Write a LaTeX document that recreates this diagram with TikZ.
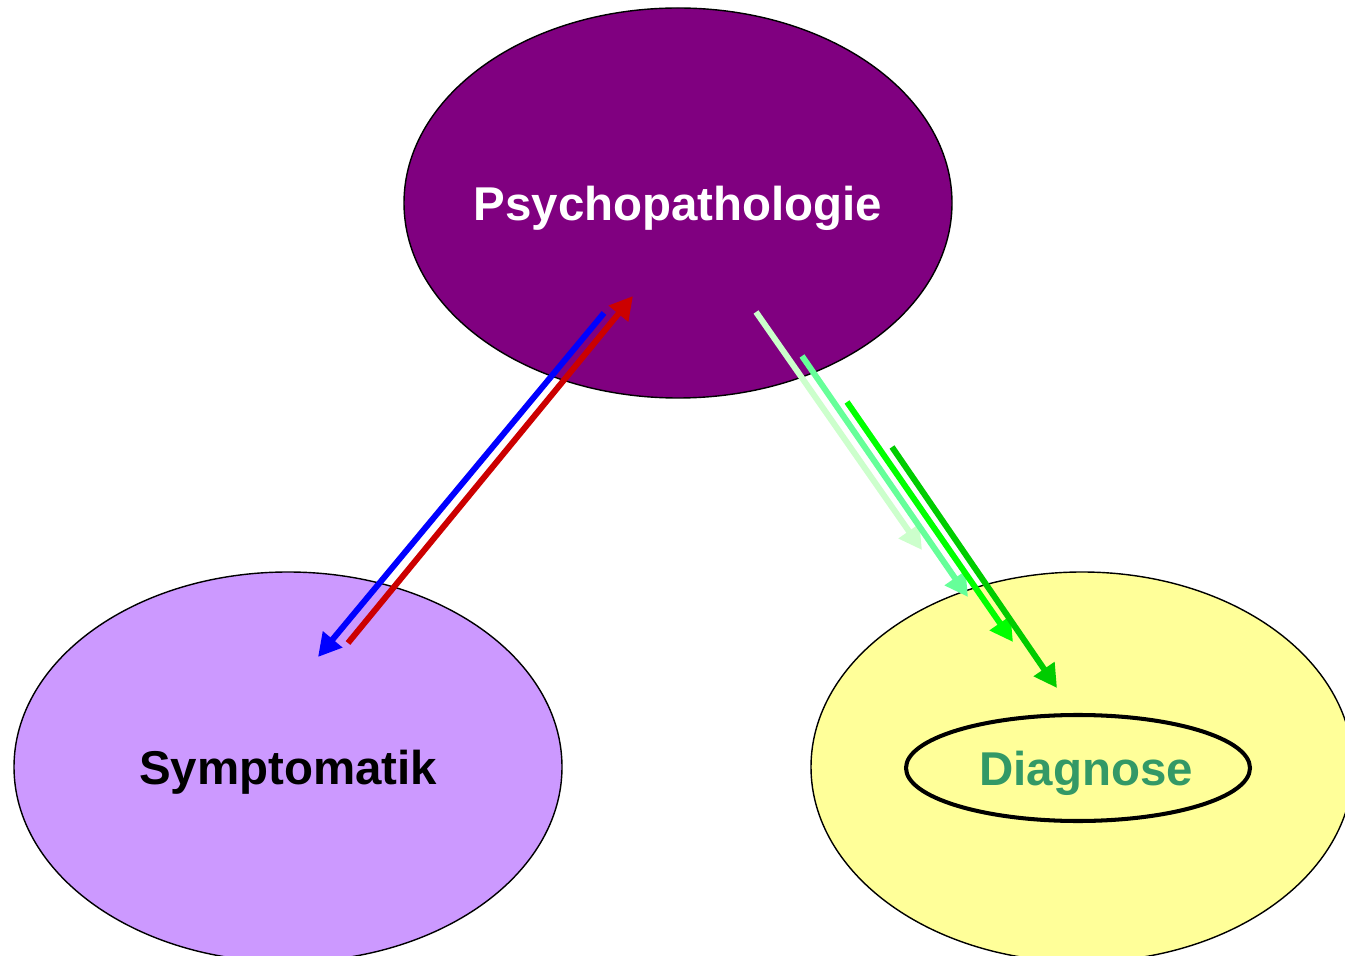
\documentclass[tikz,border=0pt]{standalone}
\usepackage{fontspec}
\setmainfont{Liberation Sans}
\usetikzlibrary{arrows.meta,shapes.geometric}
\definecolor{psypurple}{HTML}{800080}
\definecolor{symlilac}{HTML}{CC99FF}
\definecolor{diayellow}{HTML}{FFFF99}
\definecolor{diatext}{HTML}{339966}
\definecolor{blueline}{HTML}{0000FF}
\definecolor{redline}{HTML}{CC0000}
\definecolor{greenA}{HTML}{CCFFCC}
\definecolor{greenB}{HTML}{66FF99}
\definecolor{greenC}{HTML}{00FF00}
\definecolor{greenD}{HTML}{00CC00}
\tikzset{
  >={Triangle[length=4.6mm,width=4.8mm]},
  % ellipsen
  bigell/.style={ellipse,draw=black,line width=0.8pt,inner sep=-1cm,
                 minimum width=10.96cm,minimum height=7.8cm,text depth=0pt,
                 font=\fontsize{27}{32}\selectfont\bfseries},
  innerell/.style={ellipse,draw=black,line width=2.3pt,inner sep=0pt,
                   minimum width=6.88cm,minimum height=2.12cm,text depth=0pt,
                   font=\fontsize{27}{32}\selectfont\bfseries,text=diatext},
  % pfeile
  pa/.style={->,line width=3.4pt},
}
\begin{document}
\begin{tikzpicture}
\useasboundingbox (0,0) rectangle (26.9,19.1);
\clip (0,0) rectangle (26.9,19.1);
  \node[bigell,fill=psypurple,text=white] (psy) at (13.56,15.04) {Psychopathologie};
  \node[bigell,fill=symlilac,text=black] (sym) at (5.76,3.76) {Symptomatik};
  \node[bigell,fill=diayellow,minimum width=10.84cm] (dia) at (21.64,3.76) {};
  \node[innerell] (diag) at (21.56,3.74) {\hspace*{.32cm}Diagnose};
  \coordinate (b1) at (12.08,12.84);
  \coordinate (b2) at (6.36,5.96);
  \coordinate (r1) at (6.96,6.24);
  \coordinate (r2) at (12.66,13.18);
  \coordinate (g1s) at (15.12,12.86);
  \coordinate (g1e) at (18.44,8.10);
  \coordinate (g2s) at (16.04,11.98);
  \coordinate (g2e) at (19.36,7.16);
  \coordinate (g3s) at (16.94,11.06);
  \coordinate (g3e) at (20.26,6.26);
  \coordinate (g4s) at (17.84,10.16);
  \coordinate (g4e) at (21.14,5.34);
  \draw[pa,draw=blueline,fill=blueline] (b1) -- (b2);
  \draw[pa,draw=redline,fill=redline] (r1) -- (r2);
  \draw[pa,draw=greenA,fill=greenA] (g1s) -- (g1e);
  \draw[pa,draw=greenB,fill=greenB] (g2s) -- (g2e);
  \draw[pa,draw=greenC,fill=greenC] (g3s) -- (g3e);
  \draw[pa,draw=greenD,fill=greenD] (g4s) -- (g4e);
\end{tikzpicture}
\end{document}
